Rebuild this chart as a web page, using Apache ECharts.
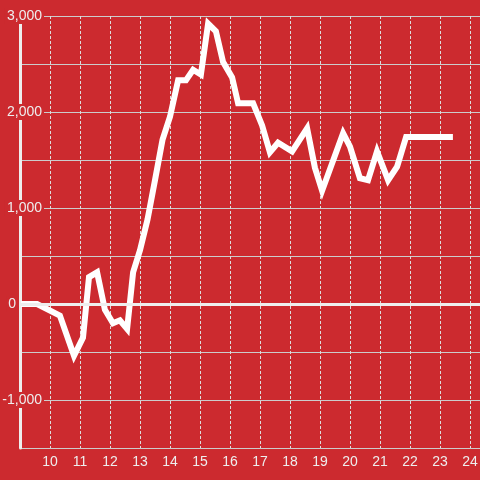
<!DOCTYPE html>
<html>
<head>
<meta charset="utf-8">
<script src="https://cdn.jsdelivr.net/npm/echarts@6/dist/echarts.min.js"></script>
<style>
  html, body { margin: 0; padding: 0; background: #cc2a2f; }
  #chart { width: 480px; height: 480px; }
</style>
</head>
<body>
<div id="chart"></div>
<script>
// hours of the day (x) and values (y)
var hours = [9.03, 9.57, 10.33, 10.8, 11.1, 11.3, 11.57, 11.83, 12.1, 12.33, 12.57, 12.77,
  13.0, 13.25, 13.5, 13.75, 14.0, 14.27, 14.53, 14.77, 15.03, 15.27, 15.53, 15.77, 16.07,
  16.27, 16.77, 17.07, 17.33, 17.6, 18.07, 18.57, 18.83, 19.07, 19.77, 20.0, 20.33, 20.6,
  20.9, 21.27, 21.57, 21.87, 23.43];
var values = [0, 0, -120, -540, -350, 280, 330, -60, -200, -170, -260, 330,
  560, 880, 1290, 1710, 1950, 2330, 2330, 2440, 2390, 2920, 2840, 2520, 2360,
  2090, 2090, 1860, 1580, 1680, 1590, 1830, 1420, 1180, 1780, 1640, 1310, 1290,
  1590, 1290, 1430, 1740, 1740];
var yTicks = [-1000, 0, 1000, 2000, 3000];

var bg = '#cc2a2f';
var seriesData = hours.map(function (h, i) { return [h, values[i]]; });

function fmt(v) {
  return String(v).replace(/\B(?=(\d{3})+(?!\d))/g, ',');
}

var chart = echarts.init(document.getElementById('chart'));
chart.setOption({
  animation: false,
  backgroundColor: bg,
  textStyle: { fontFamily: 'Liberation Sans, Arial, sans-serif' },
  grid: { left: 20, right: 0, top: 16, bottom: 32, containLabel: false, outerBoundsMode: 'none' },
  xAxis: {
    type: 'value',
    min: 9,
    max: 24.333,
    interval: 1,
    axisLine: { show: false },
    axisTick: { show: false },
    axisLabel: {
      color: '#eee',
      fontSize: 14,
      margin: 7,
      showMinLabel: false,
      formatter: function (v) {
        return (v === Math.round(v) && v > 9) ? String(v) : '';
      }
    },
    splitLine: {
      show: true,
      lineStyle: { color: '#ddd', width: 1, type: [3, 2] }
    }
  },
  yAxis: {
    type: 'value',
    min: -1500,
    max: 3000,
    interval: 500,
    axisLine: { show: true, onZero: false, lineStyle: { color: '#eee', width: 3 } },
    axisTick: { show: false },
    axisLabel: {
      color: '#eee',
      fontSize: 14,
      margin: -24,
      align: 'right',
      formatter: function (v) {
        if (yTicks.indexOf(v) < 0) return '';
        if (v === 0) return '{z|0}{s|}';
        return '{n|' + fmt(v) + '}';
      },
      rich: {
        n: { color: '#eee', fontSize: 14, backgroundColor: bg, padding: [1, 2, 1, 2] },
        z: { color: '#eee', fontSize: 14, backgroundColor: bg, padding: [1, 2, 1, 2] },
        s: { width: 26 }
      }
    },
    splitLine: { show: true, lineStyle: { color: '#ccc', width: 1 } }
  },
  series: [{
    type: 'line',
    data: seriesData,
    showSymbol: false,
    symbol: 'none',
    lineStyle: { color: '#fff', width: 6, join: 'miter' },
    markLine: {
      silent: true,
      symbol: 'none',
      label: { show: false },
      lineStyle: { color: '#eee', width: 3, type: 'solid' },
      data: [{ yAxis: 0 }]
    }
  }]
});
</script>
</body>
</html>
